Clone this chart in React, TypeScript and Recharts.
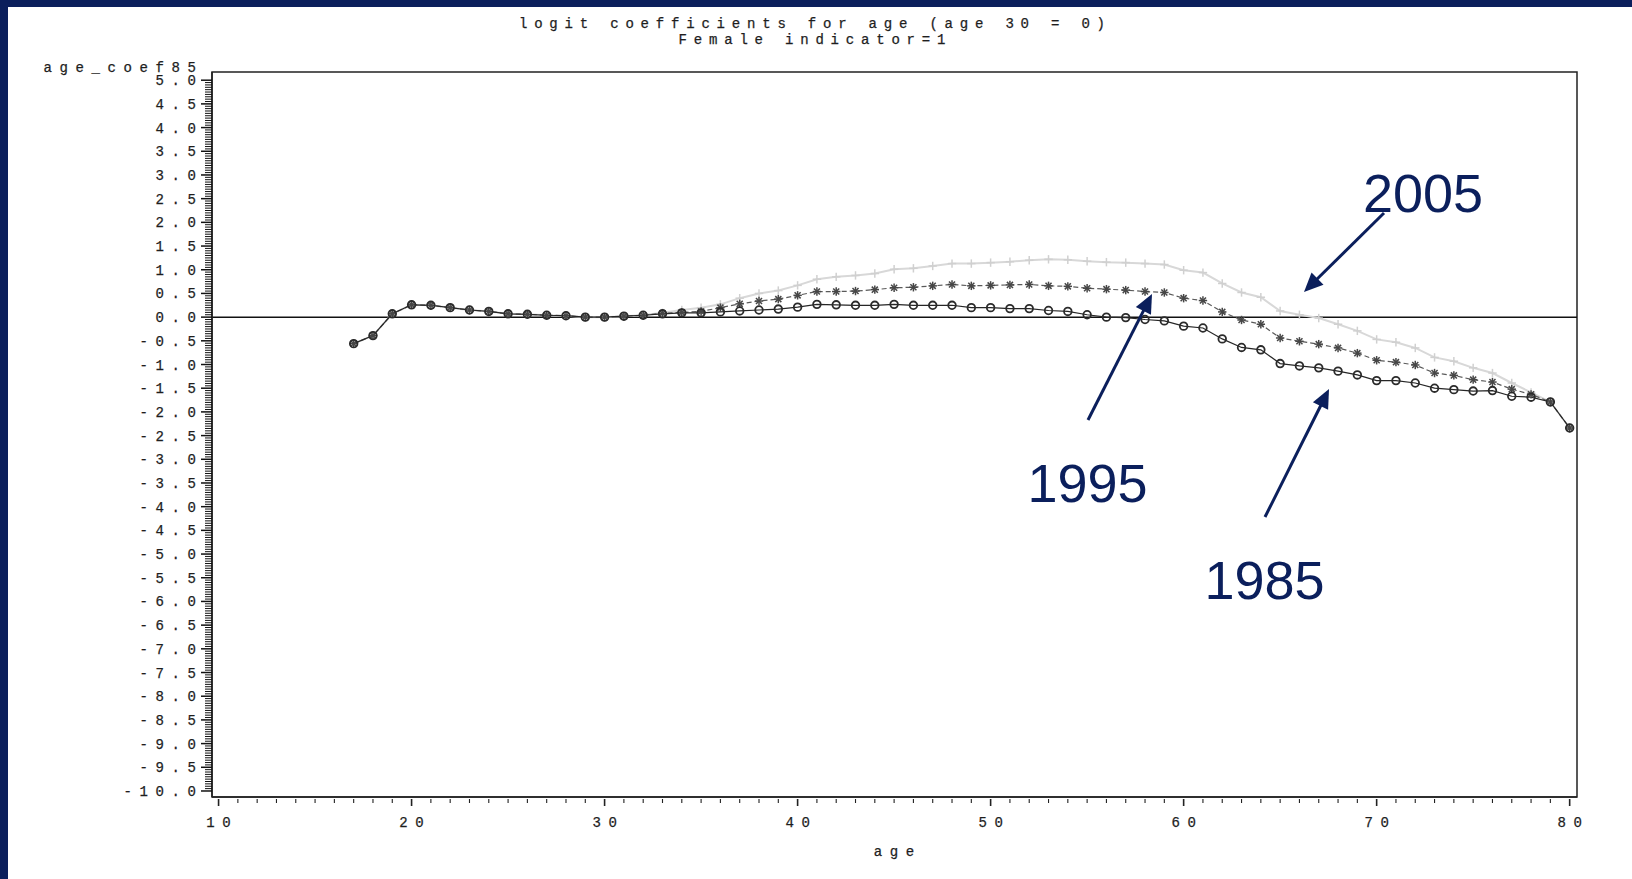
import React from 'react';
import { LineChart, Line, XAxis, YAxis, ReferenceLine, ReferenceArea } from 'recharts';

// ---------- data ----------
const ages = [
  17, 18, 19, 20, 21, 22, 23, 24, 25, 26, 27, 28, 29, 30, 31, 32,
  33, 34, 35, 36, 37, 38, 39, 40, 41, 42, 43, 44, 45, 46, 47, 48,
  49, 50, 51, 52, 53, 54, 55, 56, 57, 58, 59, 60, 61, 62, 63, 64,
  65, 66, 67, 68, 69, 70, 71, 72, 73, 74, 75, 76, 77, 78, 79, 80,
];

const coef1985 = [
  -0.56, -0.39, 0.07, 0.26, 0.25, 0.2, 0.15, 0.12, 0.07, 0.06, 0.04, 0.03, 0.0, 0.0, 0.02, 0.04,
  0.07, 0.09, 0.09, 0.11, 0.13, 0.15, 0.17, 0.21, 0.27, 0.26, 0.25, 0.25, 0.27, 0.25, 0.25, 0.25,
  0.2, 0.2, 0.18, 0.18, 0.14, 0.12, 0.05, 0.0, -0.01, -0.05, -0.08, -0.19, -0.23, -0.46, -0.64, -0.69,
  -0.98, -1.03, -1.07, -1.14, -1.22, -1.34, -1.34, -1.39, -1.5, -1.53, -1.56, -1.55, -1.67, -1.69, -1.79, -2.34,
];

const coef1995 = [
  -0.56, -0.39, 0.07, 0.26, 0.25, 0.2, 0.15, 0.12, 0.07, 0.06, 0.04, 0.03, 0.0, 0.0, 0.02, 0.04,
  0.08, 0.1, 0.12, 0.2, 0.28, 0.34, 0.38, 0.46, 0.54, 0.54, 0.55, 0.58, 0.62, 0.63, 0.66, 0.69,
  0.66, 0.67, 0.68, 0.69, 0.66, 0.65, 0.61, 0.59, 0.57, 0.54, 0.52, 0.4, 0.35, 0.11, -0.06, -0.15,
  -0.44, -0.51, -0.57, -0.65, -0.76, -0.91, -0.95, -1.01, -1.18, -1.23, -1.32, -1.37, -1.52, -1.63, -1.79, -2.34,
];

const coef2005 = [
  -0.56, -0.39, 0.07, 0.26, 0.25, 0.2, 0.15, 0.12, 0.07, 0.06, 0.04, 0.03, 0.0, 0.0, 0.02, 0.04,
  0.09, 0.15, 0.2, 0.27, 0.4, 0.5, 0.56, 0.67, 0.8, 0.85, 0.88, 0.92, 1.01, 1.03, 1.08, 1.13,
  1.13, 1.15, 1.17, 1.2, 1.22, 1.21, 1.18, 1.16, 1.15, 1.13, 1.11, 0.99, 0.94, 0.71, 0.52, 0.42,
  0.13, 0.05, -0.02, -0.15, -0.29, -0.47, -0.53, -0.65, -0.85, -0.93, -1.07, -1.18, -1.39, -1.59, -1.79, -2.34,
];

const xTickLabels = [10, 20, 30, 40, 50, 60, 70, 80];
const yTickLabels = [
  5, 4.5, 4, 3.5, 3, 2.5, 2, 1.5, 1, 0.5, 0, -0.5, -1, -1.5, -2, -2.5,
  -3, -3.5, -4, -4.5, -5, -5.5, -6, -6.5, -7, -7.5, -8, -8.5, -9, -9.5, -10,
];
const titleLines = ['logit coefficients for age (age 30 = 0)', 'Female indicator=1'];
const yAxisTitle = 'age_coef85';
const xAxisTitle = 'age';
const seriesLabels = ['2005', '1995', '1985'];

// ---------- layout / style ----------
const W = 1632;
const H = 879;
const NAVY = '#0b1f5c';
const MONO = '"Liberation Mono", "DejaVu Sans Mono", monospace';
const SANS = '"Liberation Sans", Arial, sans-serif';
const FS = 14;
const LS = 7.6;
const TLS = 6.8;
const TEXT = '#1e1e1e';

const X_DOMAIN: [number, number] = [9.66, 80.38];
const Y_DOMAIN: [number, number] = [-10.127, 5.173];

const rows = ages.map((age, i) => ({
  age,
  c85: coef1985[i],
  c95: coef1995[i],
  c05: coef2005[i],
}));

// minor tick grids (axis decoration, not data)
const xTicks: number[] = [];
for (let v = xTickLabels[0]; v <= xTickLabels[xTickLabels.length - 1]; v += 1) xTicks.push(v);
const yTicks: number[] = [];
for (let k = 0; k <= 300; k++) yTicks.push(Math.round((5 - k * 0.05) * 100) / 100);

const isMajorY = (v: number) => yTickLabels.some((t) => Math.abs(t - v) < 1e-6);
const isMajorX = (v: number) => xTickLabels.includes(v);

const textStyle = {
  fontFamily: MONO,
  fontSize: FS,
  fill: TEXT,
  stroke: TEXT,
  strokeWidth: 0.25,
};

const XTick = (props: any) => {
  const { x, y, payload } = props;
  const v = payload.value;
  const major = isMajorX(v);
  return (
    <g>
      <line x1={x} x2={x} y1={y + 2} y2={y + (major ? 9 : 6)} stroke="#222" strokeWidth={major ? 1.6 : 1.1} />
      {major && (
        <text x={x + LS / 2} y={y + 30} textAnchor="middle" letterSpacing={LS} {...textStyle}>
          {String(v)}
        </text>
      )}
    </g>
  );
};

const YTick = (props: any) => {
  const { x, y, payload } = props;
  const v = payload.value;
  const major = isMajorY(v);
  return (
    <g>
      <line x1={x - (major ? 11 : 7)} x2={x} y1={y} y2={y} stroke="#111" strokeWidth={major ? 1.5 : 1} />
      {major && (
        <text x={196 + LS} y={y + 5} textAnchor="end" letterSpacing={LS} {...textStyle}>
          {v.toFixed(1)}
        </text>
      )}
    </g>
  );
};

const CircleDot = (p: any) => {
  if (p.cx == null || p.cy == null) return <g key={`c${p.index}`} />;
  return (
    <circle key={`c${p.index}`} cx={p.cx} cy={p.cy} r={3.8} fill="none" stroke="#2b2b2b" strokeWidth={1.8} />
  );
};

const StarDot = (p: any) => {
  if (p.cx == null || p.cy == null) return <g key={`s${p.index}`} />;
  const r = 4.2;
  const d = r * 0.72;
  const { cx, cy } = p;
  return (
    <g key={`s${p.index}`} stroke="#474747" strokeWidth={1.5}>
      <line x1={cx - r} x2={cx + r} y1={cy} y2={cy} />
      <line x1={cx} x2={cx} y1={cy - r} y2={cy + r} />
      <line x1={cx - d} x2={cx + d} y1={cy - d} y2={cy + d} />
      <line x1={cx - d} x2={cx + d} y1={cy + d} y2={cy - d} />
    </g>
  );
};

const PlusDot = (p: any) => {
  if (p.cx == null || p.cy == null) return <g key={`p${p.index}`} />;
  const r = 4.2;
  const { cx, cy } = p;
  return (
    <g key={`p${p.index}`} stroke="#d0d0d0" strokeWidth={1.5}>
      <line x1={cx - r} x2={cx + r} y1={cy} y2={cy} />
      <line x1={cx} x2={cx} y1={cy - r} y2={cy + r} />
    </g>
  );
};

// annotation placement (pixel layout of the callouts)
const callouts = [
  { label: seriesLabels[0], tx: 1423, ty: 211.5, ax: 1384, ay: 213, bx: 1304, by: 292 },
  { label: seriesLabels[1], tx: 1087.5, ty: 501.5, ax: 1088, ay: 420, bx: 1152, by: 294 },
  { label: seriesLabels[2], tx: 1264.5, ty: 598.5, ax: 1265, ay: 517, bx: 1329, by: 389 },
];

const Arrow = ({ ax, ay, bx, by }: { ax: number; ay: number; bx: number; by: number }) => {
  const dx = bx - ax;
  const dy = by - ay;
  const len = Math.sqrt(dx * dx + dy * dy);
  const ux = dx / len;
  const uy = dy / len;
  const hl = 19;
  const hw = 8.5;
  const baseX = bx - ux * hl;
  const baseY = by - uy * hl;
  const px = -uy;
  const py = ux;
  return (
    <g>
      <line x1={ax} y1={ay} x2={baseX + ux * 2} y2={baseY + uy * 2} stroke={NAVY} strokeWidth={3} />
      <polygon
        points={`${bx},${by} ${baseX + px * hw},${baseY + py * hw} ${baseX - px * hw},${baseY - py * hw}`}
        fill={NAVY}
      />
    </g>
  );
};

export default function App() {
  return (
    <div
      style={{
        position: 'fixed',
        left: 0,
        top: 0,
        width: W,
        height: H,
        background: '#ffffff',
        overflow: 'hidden',
      }}
    >
      <div style={{ position: 'absolute', left: 0, top: 0 }}>
        <LineChart width={W} height={H} data={rows} margin={{ top: 72, right: 55, bottom: 12, left: 0 }}>
          <XAxis
            dataKey="age"
            type="number"
            domain={X_DOMAIN}
            ticks={xTicks}
            interval={0}
            allowDataOverflow
            tickLine={false}
            tickSize={0}
            tickMargin={0}
            height={70}
            axisLine={{ stroke: '#222', strokeWidth: 1.5 }}
            tick={<XTick />}
          />
          <YAxis
            type="number"
            domain={Y_DOMAIN}
            ticks={yTicks}
            interval={0}
            allowDataOverflow
            tickLine={false}
            tickSize={0}
            tickMargin={0}
            width={212}
            axisLine={{ stroke: '#222', strokeWidth: 1.5 }}
            tick={<YTick />}
          />
          <ReferenceArea
            x1={X_DOMAIN[0]}
            x2={X_DOMAIN[1]}
            y1={Y_DOMAIN[0]}
            y2={Y_DOMAIN[1]}
            fill="none"
            fillOpacity={0}
            stroke="#222"
            strokeWidth={1.5}
          />
          <ReferenceLine y={0} stroke="#111" strokeWidth={1.5} />
          <Line
            dataKey="c05"
            type="linear"
            stroke="#d8d8d8"
            strokeWidth={2}
            dot={PlusDot}
            activeDot={false}
            isAnimationActive={false}
          />
          <Line
            dataKey="c95"
            type="linear"
            stroke="#5a5a5a"
            strokeWidth={1.2}
            strokeDasharray="5 3"
            dot={StarDot}
            activeDot={false}
            isAnimationActive={false}
          />
          <Line
            dataKey="c85"
            type="linear"
            stroke="#262626"
            strokeWidth={1.2}
            dot={CircleDot}
            activeDot={false}
            isAnimationActive={false}
          />
        </LineChart>
      </div>
      <svg width={W} height={H} style={{ position: 'absolute', left: 0, top: 0, pointerEvents: 'none' }}>
        <rect x={0} y={0} width={W} height={7} fill={NAVY} />
        <rect x={0} y={0} width={8} height={H} fill={NAVY} />
        <text x={812 + TLS / 2} y={28} textAnchor="middle" letterSpacing={TLS} {...textStyle}>
          {titleLines[0]}
        </text>
        <text x={812 + TLS / 2} y={44} textAnchor="middle" letterSpacing={TLS} {...textStyle}>
          {titleLines[1]}
        </text>
        <text x={196 + LS} y={72} textAnchor="end" letterSpacing={LS} {...textStyle}>
          {yAxisTitle}
        </text>
        <text x={894 + LS / 2} y={856} textAnchor="middle" letterSpacing={LS} {...textStyle}>
          {xAxisTitle}
        </text>
        {callouts.map((c) => (
          <g key={c.label}>
            <Arrow ax={c.ax} ay={c.ay} bx={c.bx} by={c.by} />
            <text x={c.tx} y={c.ty} textAnchor="middle" fontFamily={SANS} fontSize={54} fill={NAVY}>
              {c.label}
            </text>
          </g>
        ))}
      </svg>
    </div>
  );
}
